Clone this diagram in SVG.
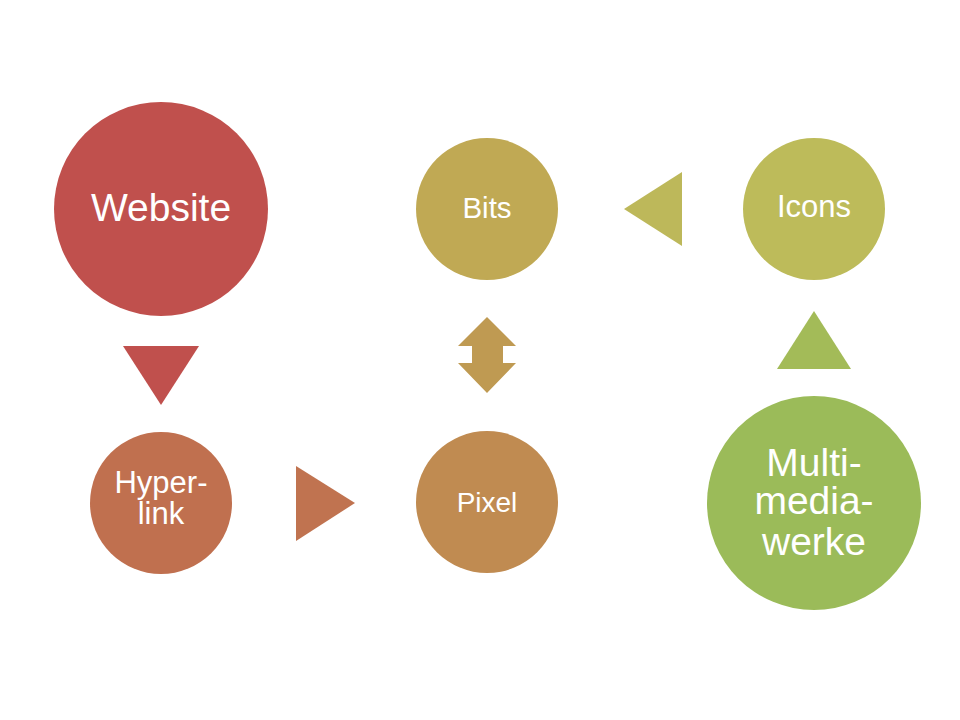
<svg xmlns="http://www.w3.org/2000/svg" width="960" height="720" viewBox="0 0 960 720">
<style>
text{font-family:"Liberation Sans",Arial,sans-serif;fill:#fff;text-anchor:middle}
.big{font-size:39px}.mid{font-size:31px}
</style>
<rect width="960" height="720" fill="#fff"/>
<g id="connectors">
<polygon points="123,346 199,346 161,405" fill="#C0504D"/>
<polygon points="296,466 355,503 296,541" fill="#C07350"/>
<polygon points="487,317 516,346 503,346 503,363 516,363 487,393 458,363 472,363 472,346 458,346" fill="#BF9A52"/>
<polygon points="682,172 682,246 624,209" fill="#BDB85A"/>
<polygon points="814,311 851,369 777,369" fill="#A3BB58"/>
</g>
<g id="website"><circle cx="161" cy="209" r="107" fill="#C0504D"/><text class="big" x="161" y="221">Website</text></g>
<g id="hyperlink"><circle cx="161" cy="503" r="71" fill="#C0704F"/><text class="mid" x="161" y="493">Hyper-</text><text class="mid" x="161" y="524">link</text></g>
<g id="pixel"><circle cx="487" cy="502" r="71" fill="#C08B51"/><text x="487" y="512" font-size="28">Pixel</text></g>
<g id="bits"><circle cx="487" cy="209" r="71" fill="#C0A954"/><text x="487" y="218" font-size="29.5">Bits</text></g>
<g id="icons"><circle cx="814" cy="209" r="71" fill="#BDBB5A"/><text x="814" y="217" font-size="31">Icons</text></g>
<g id="multimedia"><circle cx="814" cy="503" r="107" fill="#9BBB59"/><text class="big" x="814" y="476">Multi-</text><text class="big" x="814" y="514">media-</text><text class="big" x="814" y="555">werke</text></g>
</svg>
